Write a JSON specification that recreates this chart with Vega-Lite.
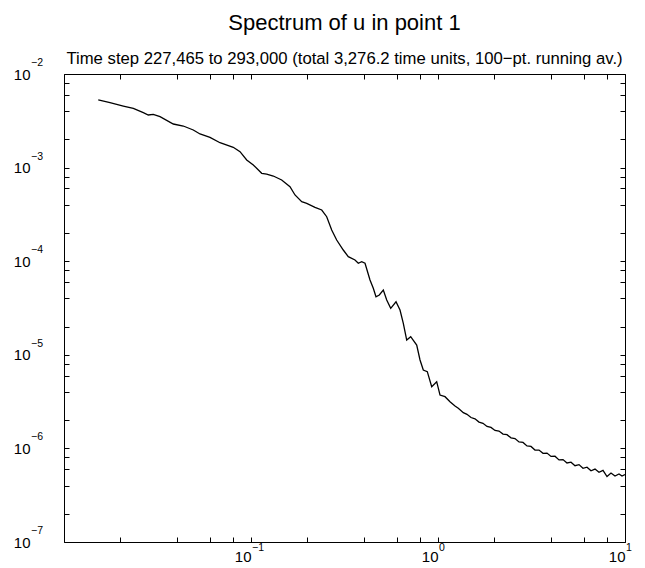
{
  "$schema": "https://vega.github.io/schema/vega-lite/v6.json",
  "width": 561,
  "height": 468,
  "autosize": {"type": "none"},
  "padding": {"left": 64, "top": 74, "right": 20, "bottom": 26},
  "background": "white",
  "title": {
    "text": "Spectrum of u in point 1",
    "subtitle": "Time step 227,465 to 293,000 (total 3,276.2 time units, 100−pt. running av.)",
    "font": "Liberation Sans",
    "fontSize": 22,
    "fontWeight": "normal",
    "color": "black",
    "subtitleFont": "Liberation Sans",
    "subtitleFontSize": 16.7,
    "subtitleColor": "black",
    "subtitlePadding": 16,
    "anchor": "middle",
    "frame": "group",
    "offset": -11
  },
  "config": {
    "view": {"stroke": "black", "strokeWidth": 1},
    "axis": {
      "domain": false,
      "grid": false,
      "tickColor": "black",
      "tickSize": -5,
      "tickWidth": 1,
      "labelFont": "Liberation Sans",
      "labelFontSize": 15,
      "labelColor": "black",
      "labelFlush": false,
      "labelOverlap": false,
      "title": null
    }
  },
  "data": {
    "values": [
      {"f": 0.01525, "s": 0.005277},
      {"f": 0.01762, "s": 0.004935},
      {"f": 0.02076, "s": 0.004549},
      {"f": 0.02348, "s": 0.004299},
      {"f": 0.02655, "s": 0.003858},
      {"f": 0.02823, "s": 0.003648},
      {"f": 0.03002, "s": 0.003711},
      {"f": 0.03262, "s": 0.003498},
      {"f": 0.03842, "s": 0.002922},
      {"f": 0.04345, "s": 0.002782},
      {"f": 0.04913, "s": 0.002522},
      {"f": 0.05337, "s": 0.002286},
      {"f": 0.06035, "s": 0.002107},
      {"f": 0.06826, "s": 0.001845},
      {"f": 0.08038, "s": 0.001648},
      {"f": 0.08735, "s": 0.001479},
      {"f": 0.09484, "s": 0.001206},
      {"f": 0.1029, "s": 0.001066},
      {"f": 0.1141, "s": 0.000869},
      {"f": 0.1213, "s": 0.000854},
      {"f": 0.1316, "s": 0.000813},
      {"f": 0.1459, "s": 0.000737},
      {"f": 0.1616, "s": 0.000625},
      {"f": 0.1719, "s": 0.00051},
      {"f": 0.1867, "s": 0.000432},
      {"f": 0.1986, "s": 0.0004155},
      {"f": 0.2199, "s": 0.0003766},
      {"f": 0.2389, "s": 0.0003524},
      {"f": 0.254, "s": 0.0002988},
      {"f": 0.2701, "s": 0.0002154},
      {"f": 0.2872, "s": 0.0001685},
      {"f": 0.3115, "s": 0.0001317},
      {"f": 0.3313, "s": 0.0001117},
      {"f": 0.3598, "s": 0.000103},
      {"f": 0.3748, "s": 0.000095},
      {"f": 0.3908, "s": 0.0000988},
      {"f": 0.4071, "s": 0.000095},
      {"f": 0.4329, "s": 0.000063},
      {"f": 0.4508, "s": 0.0000513},
      {"f": 0.466, "s": 0.00004175},
      {"f": 0.4854, "s": 0.00004354},
      {"f": 0.51, "s": 0.00004922},
      {"f": 0.5318, "s": 0.0000385},
      {"f": 0.5587, "s": 0.0000314},
      {"f": 0.5963, "s": 0.0000369},
      {"f": 0.6264, "s": 0.0000301},
      {"f": 0.6524, "s": 0.00002171},
      {"f": 0.6803, "s": 0.00001439},
      {"f": 0.7145, "s": 0.00001561},
      {"f": 0.7694, "s": 0.00001272},
      {"f": 0.8014, "s": 0.0000088},
      {"f": 0.8344, "s": 0.00000688},
      {"f": 0.8765, "s": 0.0000066},
      {"f": 0.9254, "s": 0.00000456},
      {"f": 0.984, "s": 0.00000516},
      {"f": 1.0249, "s": 0.00000372},
      {"f": 1.09, "s": 0.00000357},
      {"f": 1.159, "s": 0.000003155},
      {"f": 1.233, "s": 0.000002838},
      {"f": 1.284, "s": 0.000002682},
      {"f": 1.366, "s": 0.000002406},
      {"f": 1.4289, "s": 0.0000023138},
      {"f": 1.5013, "s": 0.0000021385},
      {"f": 1.5771, "s": 0.0000020712},
      {"f": 1.6567, "s": 0.0000019098},
      {"f": 1.7404, "s": 0.0000018542},
      {"f": 1.8282, "s": 0.0000017181},
      {"f": 1.9206, "s": 0.0000016764},
      {"f": 2.0175, "s": 0.0000015571},
      {"f": 2.1193, "s": 0.0000015309},
      {"f": 2.2264, "s": 0.0000014202},
      {"f": 2.3387, "s": 0.0000014011},
      {"f": 2.4568, "s": 0.0000012963},
      {"f": 2.5808, "s": 0.0000012742},
      {"f": 2.7112, "s": 0.0000011721},
      {"f": 2.8481, "s": 0.0000011578},
      {"f": 2.9918, "s": 0.0000010622},
      {"f": 3.1429, "s": 0.0000010492},
      {"f": 3.3016, "s": 0.000000959},
      {"f": 3.4683, "s": 0.000000959},
      {"f": 3.6434, "s": 0.0000008864},
      {"f": 3.8273, "s": 0.0000008908},
      {"f": 4.0205, "s": 0.0000008214},
      {"f": 4.2235, "s": 0.0000008254},
      {"f": 4.4367, "s": 0.0000007538},
      {"f": 4.6607, "s": 0.0000007594},
      {"f": 4.896, "s": 0.0000006983},
      {"f": 5.1432, "s": 0.0000007122},
      {"f": 5.4028, "s": 0.000000654},
      {"f": 5.6756, "s": 0.0000006711},
      {"f": 5.9621, "s": 0.0000006135},
      {"f": 6.2632, "s": 0.0000006303},
      {"f": 6.5793, "s": 0.0000005771},
      {"f": 6.9115, "s": 0.0000006017},
      {"f": 7.2604, "s": 0.0000005555},
      {"f": 7.627, "s": 0.000000582},
      {"f": 8.012, "s": 0.000000501},
      {"f": 8.4165, "s": 0.0000005461},
      {"f": 8.8414, "s": 0.0000005071},
      {"f": 9.2877, "s": 0.0000005327},
      {"f": 9.6374, "s": 0.0000005071},
      {"f": 10, "s": 0.0000005263}
    ]
  },
  "layer": [
    {
      "mark": {"type": "line", "color": "black", "strokeWidth": 1.3, "clip": true},
      "encoding": {
        "x": {
          "field": "f",
          "type": "quantitative",
          "scale": {"type": "log", "domain": [0.01, 10], "nice": false},
          "axis": {
            "orient": "bottom",
            "values": [0.01, 0.02, 0.04, 0.06, 0.08, 0.1, 0.2, 0.4, 0.6, 0.8, 1, 2, 4, 6, 8, 10],
            "labelExpr": "(datum.value == 0.1 || datum.value == 1 || datum.value == 10) ? '10' : ''",
            "labelPadding": 12,
            "labelAlign": "right",
            "labelBaseline": "top"
          }
        },
        "y": {
          "field": "s",
          "type": "quantitative",
          "scale": {"type": "log", "domain": [0.0000001, 0.01], "nice": false},
          "axis": {
            "orient": "left",
            "values": [0.0000001, 0.0000002, 0.0000004, 0.0000006, 0.0000008, 0.000001, 0.000002, 0.000004, 0.000006, 0.000008, 0.00001, 0.00002, 0.00004, 0.00006, 0.00008, 0.0001, 0.0002, 0.0004, 0.0006, 0.0008, 0.001, 0.002, 0.004, 0.006, 0.008, 0.01],
            "labelExpr": "(datum.value == 0.01 || datum.value == 0.001 || datum.value == 0.0001 || datum.value == 0.00001 || datum.value == 0.000001 || datum.value == 0.0000001) ? '10' : ''",
            "labelPadding": 39,
            "labelAlign": "right",
            "labelBaseline": "middle"
          }
        }
      }
    },
    {
      "mark": {"type": "line", "strokeOpacity": 0},
      "encoding": {
        "x": {
          "field": "f",
          "type": "quantitative",
          "scale": {"type": "log", "domain": [0.01, 10], "nice": false},
          "axis": {
            "orient": "top",
            "values": [0.01, 0.02, 0.04, 0.06, 0.08, 0.1, 0.2, 0.4, 0.6, 0.8, 1, 2, 4, 6, 8, 10],
            "labels": false
          }
        },
        "y": {
          "field": "s",
          "type": "quantitative",
          "scale": {"type": "log", "domain": [0.0000001, 0.01], "nice": false},
          "axis": {
            "orient": "right",
            "values": [0.0000001, 0.0000002, 0.0000004, 0.0000006, 0.0000008, 0.000001, 0.000002, 0.000004, 0.000006, 0.000008, 0.00001, 0.00002, 0.00004, 0.00006, 0.00008, 0.0001, 0.0002, 0.0004, 0.0006, 0.0008, 0.001, 0.002, 0.004, 0.006, 0.008, 0.01],
            "labels": false
          }
        }
      }
    },
    {
      "data": {
        "values": [
          {"v": 0.01, "e": "−2"},
          {"v": 0.001, "e": "−3"},
          {"v": 0.0001, "e": "−4"},
          {"v": 0.00001, "e": "−5"},
          {"v": 0.000001, "e": "−6"},
          {"v": 0.0000001, "e": "−7"}
        ]
      },
      "mark": {"type": "text", "align": "left", "baseline": "alphabetic", "dx": -33, "dy": -8, "font": "Liberation Sans", "fontSize": 10.5, "color": "black"},
      "encoding": {
        "x": {"datum": 0.01, "type": "quantitative", "scale": {"type": "log", "domain": [0.01, 10], "nice": false}, "axis": null},
        "y": {"field": "v", "type": "quantitative", "scale": {"type": "log", "domain": [0.0000001, 0.01], "nice": false}, "axis": null},
        "text": {"field": "e"}
      }
    },
    {
      "data": {
        "values": [
          {"v": 0.1, "e": "−1"},
          {"v": 1, "e": "0"},
          {"v": 10, "e": "1"}
        ]
      },
      "mark": {"type": "text", "align": "left", "baseline": "alphabetic", "dx": 1, "dy": 9, "font": "Liberation Sans", "fontSize": 10.5, "color": "black"},
      "encoding": {
        "x": {"field": "v", "type": "quantitative", "scale": {"type": "log", "domain": [0.01, 10], "nice": false}, "axis": null},
        "y": {"datum": 0.0000001, "type": "quantitative", "scale": {"type": "log", "domain": [0.0000001, 0.01], "nice": false}, "axis": null},
        "text": {"field": "e"}
      }
    }
  ],
  "resolve": {"axis": {"x": "independent", "y": "independent"}}
}
